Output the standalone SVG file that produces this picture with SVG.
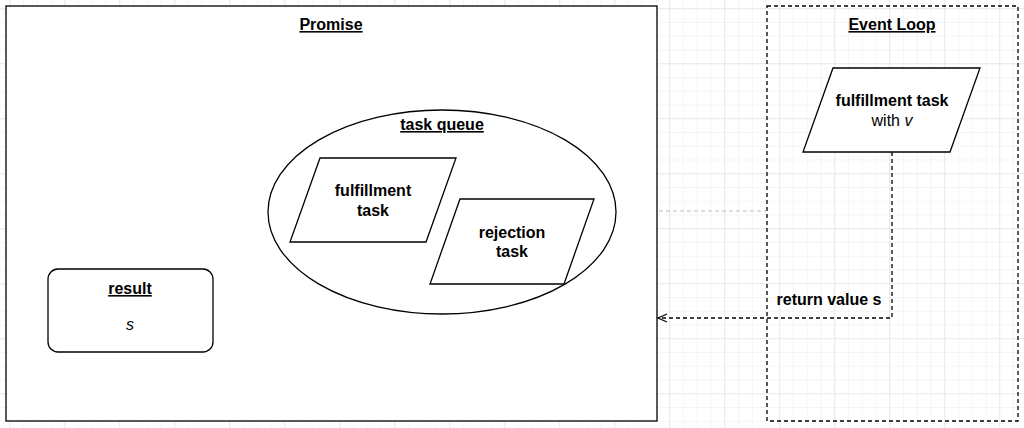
<svg xmlns="http://www.w3.org/2000/svg" width="1024" height="428" viewBox="0 0 1024 428">
<defs>
<pattern id="g" width="13.75" height="13.75" patternUnits="userSpaceOnUse" x="9.25" y="8.25"><path d="M0 0H13.75M0 0V13.75" stroke="#ececec" fill="none" stroke-width="1"/></pattern>
<pattern id="G" width="55" height="55" patternUnits="userSpaceOnUse" x="9.25" y="8.25"><path d="M0 0H55M0 0V55" stroke="#dcdcdc" fill="none" stroke-width="1"/></pattern>
<marker id="a" markerWidth="12" markerHeight="12" refX="10" refY="5" orient="auto" markerUnits="userSpaceOnUse"><path d="M1 1L10 5L1 9" fill="none" stroke="#000" stroke-width="1.2"/></marker>
</defs>
<style>
text{font-family:"Liberation Sans",Arial,sans-serif;font-size:16px;fill:#000;text-anchor:middle}
.b{font-weight:bold}.u{text-decoration:underline}
.s{fill:#fff;stroke:#000;stroke-width:1.3}
.d{fill:none;stroke:#000;stroke-width:1.3;stroke-dasharray:4 3}
</style>
<rect width="1024" height="428" fill="#fff"/>
<rect width="1024" height="428" fill="url(#g)"/>
<rect width="1024" height="428" fill="url(#G)"/>
<g id="promise"><rect x="6" y="6" width="651" height="415" class="s" stroke-width="1.6"/><text x="331" y="30" class="b u">Promise</text></g>
<g id="eventloop"><rect x="767" y="6" width="251" height="415" class="d" fill="#fff"/><text x="892" y="30" class="b u">Event Loop</text></g>
<g id="taskqueue"><ellipse cx="442" cy="212" rx="174" ry="102" class="s"/><text x="442" y="130" class="b u">task queue</text></g>
<g id="fulfill"><path d="M320 158H456L426 242H290Z" class="s"/><text x="373" y="196" class="b">fulfillment</text><text x="373" y="216" class="b">task</text></g>
<g id="reject"><path d="M460 199H594L564 284H430Z" class="s"/><text x="512" y="238" class="b">rejection</text><text x="512" y="257" class="b">task</text></g>
<g id="result"><rect x="48" y="269" width="165" height="83" rx="10" class="s"/><text x="130" y="294" class="b u">result</text><text x="130" y="330" font-style="italic">s</text></g>
<g id="fulfillv"><path d="M833 68H980L950 152H803Z" class="s"/><text x="892" y="106" class="b">fulfillment task</text><text x="892" y="126">with <tspan font-style="italic">v</tspan></text></g>
<g id="connectors">
<path d="M659 211H767" fill="none" stroke="#bbb" stroke-dasharray="4 3"/>
<path d="M892 152V318H658" class="d" marker-end="url(#a)"/>
<text x="829" y="305" class="b">return value s</text>
</g>
</svg>
